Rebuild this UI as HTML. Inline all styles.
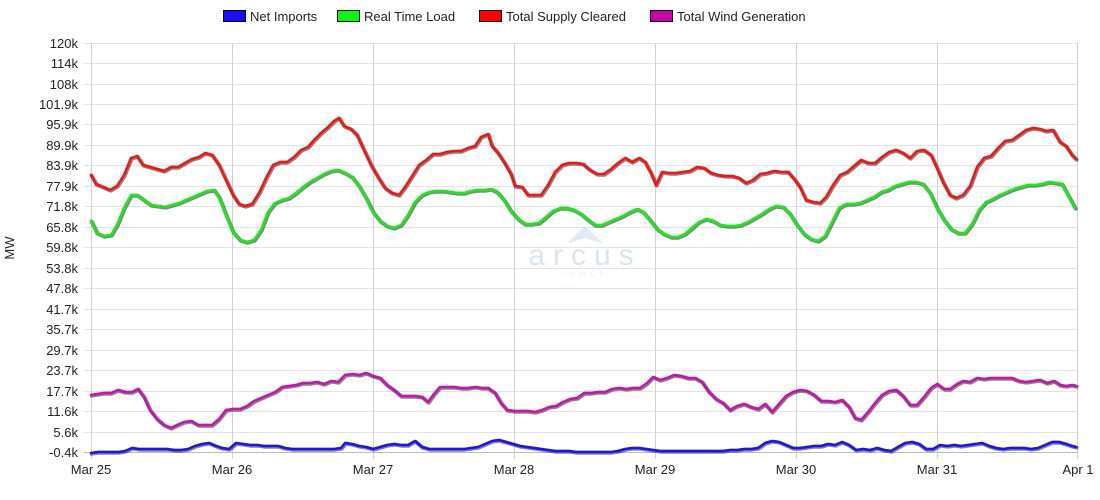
<!DOCTYPE html>
<html><head><meta charset="utf-8"><style>
html,body{margin:0;padding:0;background:#fff;}
svg{display:block;font-family:"Liberation Sans",Arial,sans-serif;}
</style></head><body>
<svg width="1100" height="500" viewBox="0 0 1100 500" xmlns="http://www.w3.org/2000/svg">
<rect width="1100" height="500" fill="#fff"/>
<!-- legend -->
<g font-size="13" fill="#222">
<rect x="223.5" y="10.5" width="22" height="11" fill="#1a0dff" stroke="#000" stroke-width="1"/><text x="250" y="21">Net Imports</text>
<rect x="337.5" y="10.5" width="22" height="11" fill="#00ff00" stroke="#000" stroke-width="1"/><text x="364" y="21">Real Time Load</text>
<rect x="479.5" y="10.5" width="22" height="11" fill="#ff0000" stroke="#000" stroke-width="1"/><text x="506" y="21">Total Supply Cleared</text>
<rect x="650.5" y="10.5" width="22" height="11" fill="#cc00aa" stroke="#000" stroke-width="1"/><text x="677" y="21">Total Wind Generation</text>
</g>
<!-- grid -->
<g stroke="#e3e3e3" stroke-width="1">
<line x1="84" x2="1078" y1="43.5" y2="43.5"/><line x1="84" x2="1078" y1="63.5" y2="63.5"/><line x1="84" x2="1078" y1="84.5" y2="84.5"/><line x1="84" x2="1078" y1="104.5" y2="104.5"/><line x1="84" x2="1078" y1="124.5" y2="124.5"/><line x1="84" x2="1078" y1="145.5" y2="145.5"/><line x1="84" x2="1078" y1="165.5" y2="165.5"/><line x1="84" x2="1078" y1="186.5" y2="186.5"/><line x1="84" x2="1078" y1="206.5" y2="206.5"/><line x1="84" x2="1078" y1="227.5" y2="227.5"/><line x1="84" x2="1078" y1="247.5" y2="247.5"/><line x1="84" x2="1078" y1="268.5" y2="268.5"/><line x1="84" x2="1078" y1="288.5" y2="288.5"/><line x1="84" x2="1078" y1="309.5" y2="309.5"/><line x1="84" x2="1078" y1="329.5" y2="329.5"/><line x1="84" x2="1078" y1="350.5" y2="350.5"/><line x1="84" x2="1078" y1="370.5" y2="370.5"/><line x1="84" x2="1078" y1="391.5" y2="391.5"/><line x1="84" x2="1078" y1="411.5" y2="411.5"/><line x1="84" x2="1078" y1="432.5" y2="432.5"/>
</g>
<g stroke="#d0d0d0" stroke-width="1">
<line x1="91.5" x2="91.5" y1="43" y2="459"/><line x1="232.5" x2="232.5" y1="43" y2="459"/><line x1="373.5" x2="373.5" y1="43" y2="459"/><line x1="514.5" x2="514.5" y1="43" y2="459"/><line x1="655.5" x2="655.5" y1="43" y2="459"/><line x1="796.5" x2="796.5" y1="43" y2="459"/><line x1="937.5" x2="937.5" y1="43" y2="459"/><line x1="1077.5" x2="1077.5" y1="43" y2="459"/>
<line x1="84" x2="1078" y1="452.5" y2="452.5" stroke="#bbb"/>
</g>
<!-- watermark -->
<g opacity="0.55">
<polygon points="585,226 566,244 585,238 604,244" fill="#c8dcea"/>
<text x="585" y="265" text-anchor="middle" font-size="30" fill="#b9cfe2" letter-spacing="8" font-weight="300">arcus</text>
<text x="585" y="276" text-anchor="middle" font-size="6" fill="#c8dcea" letter-spacing="5">POWER</text>
</g>
<!-- y labels -->
<g font-size="13" fill="#222" text-anchor="end">
<text x="78" y="48">120k</text><text x="78" y="68">114k</text><text x="78" y="89">108k</text><text x="78" y="109">101.9k</text><text x="78" y="129">95.9k</text><text x="78" y="150">89.9k</text><text x="78" y="170">83.9k</text><text x="78" y="191">77.9k</text><text x="78" y="211">71.8k</text><text x="78" y="232">65.8k</text><text x="78" y="252">59.8k</text><text x="78" y="273">53.8k</text><text x="78" y="293">47.8k</text><text x="78" y="314">41.7k</text><text x="78" y="334">35.7k</text><text x="78" y="355">29.7k</text><text x="78" y="375">23.7k</text><text x="78" y="396">17.7k</text><text x="78" y="416">11.6k</text><text x="78" y="437">5.6k</text><text x="78" y="457">-0.4k</text>
</g>
<text x="14" y="248" font-size="13" fill="#222" text-anchor="middle" transform="rotate(-90 14 248)">MW</text>
<g font-size="13" fill="#222" text-anchor="middle">
<text x="91" y="474">Mar 25</text><text x="232" y="474">Mar 26</text><text x="373" y="474">Mar 27</text><text x="514" y="474">Mar 28</text><text x="655" y="474">Mar 29</text><text x="796" y="474">Mar 30</text><text x="937" y="474">Mar 31</text><text x="1078" y="474">Apr 1</text>
</g>
<!-- series -->
<g fill="none" stroke-linejoin="round" stroke-linecap="round">
<g id="red">
<polyline stroke="#333" stroke-width="4" stroke-opacity="0.6" transform="translate(0.7,0.7)" points="91,175 96,184 103,187 110,190 117,186 124,175 131,158 137,156 143,165 150,167 157,169 164,171 171,167 178,167 185,163 192,159 199,157 205,153 212,155 219,165 226,180 233,195 239,204 245,206 252,204 259,193 266,178 273,165 280,162 287,162 294,157 301,150 308,147 314,140 321,133 328,127 334,121 339,118 344,126 351,129 357,135 364,150 371,165 378,177 385,188 392,193 399,195 405,187 412,176 419,165 426,160 433,154 440,154 447,152 454,151 461,151 468,148 475,146 481,137 488,134 492,146 498,153 504,162 511,174 515,186 522,187 528,195 535,195 541,195 548,185 555,172 562,165 569,163 576,163 583,164 590,170 597,174 604,174 611,169 618,163 625,158 632,162 639,158 645,162 651,173 656,185 662,172 669,173 676,173 683,172 690,171 697,167 704,168 711,173 718,175 725,176 732,176 739,178 746,183 753,180 760,174 767,173 774,171 781,172 788,172 795,180 800,187 806,200 813,202 820,203 826,197 833,185 840,175 847,172 854,166 861,160 868,163 875,163 882,157 889,152 896,150 903,153 910,158 917,151 924,150 931,155 937,168 943,182 950,195 956,198 963,195 970,186 977,167 984,158 991,156 998,148 1005,141 1012,140 1019,135 1026,130 1033,128 1040,129 1046,131 1053,130 1060,142 1066,146 1072,155 1076,159"/>
<polyline stroke="#ff1010" stroke-width="2.5" points="91,175 96,184 103,187 110,190 117,186 124,175 131,158 137,156 143,165 150,167 157,169 164,171 171,167 178,167 185,163 192,159 199,157 205,153 212,155 219,165 226,180 233,195 239,204 245,206 252,204 259,193 266,178 273,165 280,162 287,162 294,157 301,150 308,147 314,140 321,133 328,127 334,121 339,118 344,126 351,129 357,135 364,150 371,165 378,177 385,188 392,193 399,195 405,187 412,176 419,165 426,160 433,154 440,154 447,152 454,151 461,151 468,148 475,146 481,137 488,134 492,146 498,153 504,162 511,174 515,186 522,187 528,195 535,195 541,195 548,185 555,172 562,165 569,163 576,163 583,164 590,170 597,174 604,174 611,169 618,163 625,158 632,162 639,158 645,162 651,173 656,185 662,172 669,173 676,173 683,172 690,171 697,167 704,168 711,173 718,175 725,176 732,176 739,178 746,183 753,180 760,174 767,173 774,171 781,172 788,172 795,180 800,187 806,200 813,202 820,203 826,197 833,185 840,175 847,172 854,166 861,160 868,163 875,163 882,157 889,152 896,150 903,153 910,158 917,151 924,150 931,155 937,168 943,182 950,195 956,198 963,195 970,186 977,167 984,158 991,156 998,148 1005,141 1012,140 1019,135 1026,130 1033,128 1040,129 1046,131 1053,130 1060,142 1066,146 1072,155 1076,159"/>
</g>
<g id="green">
<polyline stroke="#333" stroke-width="4" stroke-opacity="0.6" transform="translate(0.7,0.7)" points="91,221 97,233 104,236 111,235 117,225 124,208 131,195 137,195 144,200 151,205 158,206 165,207 172,205 179,203 186,200 193,197 200,194 207,191 214,190 219,197 226,215 233,232 240,240 247,242 254,240 261,230 268,212 275,203 282,200 289,198 296,193 303,187 310,182 317,178 324,174 331,171 338,170 345,173 352,177 359,186 366,198 373,212 380,221 387,226 394,228 401,225 408,215 415,202 422,195 429,192 436,191 443,191 450,192 457,193 464,193 471,191 478,190 485,190 491,189 497,192 504,200 511,211 518,219 525,224 532,224 539,223 546,217 553,211 560,208 567,208 574,210 581,214 588,220 595,225 602,225 609,222 616,219 623,216 630,212 637,209 643,212 650,220 657,229 664,234 671,237 678,237 685,234 692,228 699,222 706,219 713,221 720,225 727,226 734,226 741,225 748,222 755,218 762,214 769,209 776,206 783,207 790,214 797,225 804,234 811,239 818,241 825,236 832,222 839,208 846,204 853,204 860,203 867,200 874,197 881,192 888,190 895,186 902,184 909,182 916,182 923,184 930,193 937,208 944,220 951,229 958,233 965,233 972,224 979,210 986,202 993,199 1000,195 1007,192 1014,189 1021,187 1028,185 1035,185 1042,184 1049,182 1056,183 1062,184 1068,195 1075,208"/>
<polyline stroke="#10f010" stroke-width="2.5" points="91,221 97,233 104,236 111,235 117,225 124,208 131,195 137,195 144,200 151,205 158,206 165,207 172,205 179,203 186,200 193,197 200,194 207,191 214,190 219,197 226,215 233,232 240,240 247,242 254,240 261,230 268,212 275,203 282,200 289,198 296,193 303,187 310,182 317,178 324,174 331,171 338,170 345,173 352,177 359,186 366,198 373,212 380,221 387,226 394,228 401,225 408,215 415,202 422,195 429,192 436,191 443,191 450,192 457,193 464,193 471,191 478,190 485,190 491,189 497,192 504,200 511,211 518,219 525,224 532,224 539,223 546,217 553,211 560,208 567,208 574,210 581,214 588,220 595,225 602,225 609,222 616,219 623,216 630,212 637,209 643,212 650,220 657,229 664,234 671,237 678,237 685,234 692,228 699,222 706,219 713,221 720,225 727,226 734,226 741,225 748,222 755,218 762,214 769,209 776,206 783,207 790,214 797,225 804,234 811,239 818,241 825,236 832,222 839,208 846,204 853,204 860,203 867,200 874,197 881,192 888,190 895,186 902,184 909,182 916,182 923,184 930,193 937,208 944,220 951,229 958,233 965,233 972,224 979,210 986,202 993,199 1000,195 1007,192 1014,189 1021,187 1028,185 1035,185 1042,184 1049,182 1056,183 1062,184 1068,195 1075,208"/>
</g>
<g id="mag">
<polyline stroke="#333" stroke-width="4" stroke-opacity="0.6" transform="translate(0.7,0.7)" points="91,395 97,394 104,393 111,393 118,390 125,392 132,392 138,389 144,397 150,410 157,419 164,425 171,428 177,425 184,422 191,421 198,425 205,425 212,425 219,419 226,410 233,409 240,409 247,406 254,401 261,398 268,395 275,392 282,387 289,386 296,385 303,383 310,383 317,382 324,384 331,381 338,382 345,375 352,374 359,375 366,373 373,376 380,378 387,385 394,390 401,396 408,396 415,396 422,397 428,402 434,394 440,387 447,387 454,387 461,388 468,388 475,387 482,388 488,388 495,393 501,403 507,410 514,411 521,411 528,411 535,412 542,410 549,407 556,406 563,402 570,399 577,398 584,393 591,393 598,392 605,392 612,389 619,388 626,389 633,388 640,388 647,383 653,377 660,380 667,378 674,375 681,376 688,378 695,378 702,382 709,392 716,399 723,403 730,410 737,406 744,404 751,407 758,409 765,404 772,412 779,404 786,396 793,392 800,390 807,391 814,395 821,401 828,401 835,402 842,400 849,407 855,418 861,420 868,412 875,403 882,395 889,391 896,390 903,396 910,405 917,405 924,397 931,388 937,384 944,389 950,389 957,384 963,381 970,382 977,378 984,379 991,378 998,378 1005,378 1012,378 1019,381 1026,382 1033,381 1040,380 1047,383 1054,381 1060,385 1066,386 1072,385 1076,386"/>
<polyline stroke="#cc10b0" stroke-width="2.5" points="91,395 97,394 104,393 111,393 118,390 125,392 132,392 138,389 144,397 150,410 157,419 164,425 171,428 177,425 184,422 191,421 198,425 205,425 212,425 219,419 226,410 233,409 240,409 247,406 254,401 261,398 268,395 275,392 282,387 289,386 296,385 303,383 310,383 317,382 324,384 331,381 338,382 345,375 352,374 359,375 366,373 373,376 380,378 387,385 394,390 401,396 408,396 415,396 422,397 428,402 434,394 440,387 447,387 454,387 461,388 468,388 475,387 482,388 488,388 495,393 501,403 507,410 514,411 521,411 528,411 535,412 542,410 549,407 556,406 563,402 570,399 577,398 584,393 591,393 598,392 605,392 612,389 619,388 626,389 633,388 640,388 647,383 653,377 660,380 667,378 674,375 681,376 688,378 695,378 702,382 709,392 716,399 723,403 730,410 737,406 744,404 751,407 758,409 765,404 772,412 779,404 786,396 793,392 800,390 807,391 814,395 821,401 828,401 835,402 842,400 849,407 855,418 861,420 868,412 875,403 882,395 889,391 896,390 903,396 910,405 917,405 924,397 931,388 937,384 944,389 950,389 957,384 963,381 970,382 977,378 984,379 991,378 998,378 1005,378 1012,378 1019,381 1026,382 1033,381 1040,380 1047,383 1054,381 1060,385 1066,386 1072,385 1076,386"/>
</g>
<g id="blue">
<polyline stroke="#333" stroke-width="4" stroke-opacity="0.6" transform="translate(0.7,0.7)" points="91,453 98,452 105,452 112,452 119,452 125,451 132,448 139,449 146,449 153,449 160,449 167,449 174,450 181,450 188,449 195,446 202,444 209,443 216,446 222,448 229,449 236,443 243,444 250,445 257,445 264,446 271,446 278,446 285,448 292,449 299,449 306,449 313,449 320,449 327,449 334,449 341,448 345,443 352,444 359,446 366,447 373,449 380,447 387,445 394,444 401,445 408,445 415,441 422,447 429,449 436,449 443,449 450,449 457,449 464,449 471,448 478,447 485,444 492,441 499,440 506,442 513,444 520,446 527,447 534,448 541,449 548,450 555,451 562,451 569,451 576,452 583,452 590,452 597,452 604,452 611,452 618,451 625,449 632,448 639,448 646,449 653,450 660,451 667,451 674,451 681,451 688,451 695,451 702,451 709,451 716,451 723,451 730,450 737,450 744,449 751,449 758,448 765,443 772,441 779,442 786,445 793,448 800,448 807,447 814,446 821,446 828,444 835,445 842,442 849,445 856,450 863,449 870,450 877,448 884,450 891,451 898,447 905,443 912,442 919,444 926,449 933,449 940,445 947,446 954,445 961,446 968,445 975,444 982,443 989,446 996,448 1003,449 1010,448 1017,448 1024,448 1031,449 1038,448 1045,445 1052,442 1059,442 1066,444 1072,446 1076,447"/>
<polyline stroke="#1a10ff" stroke-width="2.5" points="91,453 98,452 105,452 112,452 119,452 125,451 132,448 139,449 146,449 153,449 160,449 167,449 174,450 181,450 188,449 195,446 202,444 209,443 216,446 222,448 229,449 236,443 243,444 250,445 257,445 264,446 271,446 278,446 285,448 292,449 299,449 306,449 313,449 320,449 327,449 334,449 341,448 345,443 352,444 359,446 366,447 373,449 380,447 387,445 394,444 401,445 408,445 415,441 422,447 429,449 436,449 443,449 450,449 457,449 464,449 471,448 478,447 485,444 492,441 499,440 506,442 513,444 520,446 527,447 534,448 541,449 548,450 555,451 562,451 569,451 576,452 583,452 590,452 597,452 604,452 611,452 618,451 625,449 632,448 639,448 646,449 653,450 660,451 667,451 674,451 681,451 688,451 695,451 702,451 709,451 716,451 723,451 730,450 737,450 744,449 751,449 758,448 765,443 772,441 779,442 786,445 793,448 800,448 807,447 814,446 821,446 828,444 835,445 842,442 849,445 856,450 863,449 870,450 877,448 884,450 891,451 898,447 905,443 912,442 919,444 926,449 933,449 940,445 947,446 954,445 961,446 968,445 975,444 982,443 989,446 996,448 1003,449 1010,448 1017,448 1024,448 1031,449 1038,448 1045,445 1052,442 1059,442 1066,444 1072,446 1076,447"/>
</g>
</g>
</svg>
</body></html>
